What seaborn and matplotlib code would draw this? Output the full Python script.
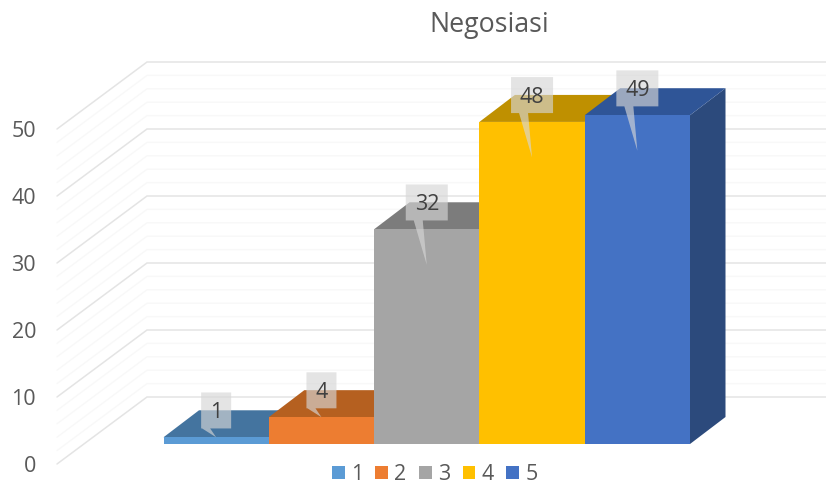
import matplotlib
matplotlib.use("Agg")
import matplotlib.pyplot as plt
from matplotlib.patches import Patch, Polygon
import pandas as pd
import seaborn as sns

categories = ["1", "2", "3", "4", "5"]
values = [1, 4, 32, 48, 49]
front_colors = ["#5B9BD5", "#ED7D31", "#A5A5A5", "#FFC000", "#4472C4"]
top_colors = ["#44749F", "#B56020", "#7C7C7C", "#BF9000", "#2F5597"]
side_colors = ["#3A6A96", "#A85A1D", "#737373", "#B08500", "#2C4A7C"]
y_ticks = [0, 10, 20, 30, 40, 50]
minor_ticks = [v for v in range(0, 50, 2) if v % 10]
title_text = "Negosiasi"

W, H = 826, 488
BAR_LEFT, BAR_RIGHT, BAR_BASE, UNIT_PX = 163.5, 690.0, 444.0, 6.71
WALL_LEFT, WALL_ZERO, WALL_UNIT = 57.0, 464.0, 6.70
DEPTH_X_PX, DEPTH_Y_PX = 35.5, 27.0
WALL_DX_PX, WALL_DV = 90.0, 10.0
GREY = "#595959"

sns.set_theme(style="white")
plt.rcParams["font.family"] = ["Open Sans", "DejaVu Sans"]

fig = plt.figure(figsize=(W / 100, H / 100), dpi=100)
fig.patch.set_facecolor("white")

# Wall and floor grid: its own axes, so the value axis sits on the front plane
wall = fig.add_axes([WALL_LEFT / W, 0, 1 - WALL_LEFT / W, 1])
wall.set_xlim(0, W - WALL_LEFT)
wall.set_ylim(-(H - WALL_ZERO) / WALL_UNIT, WALL_ZERO / WALL_UNIT)
wall.set_xticks([])
wall.set_yticks(y_ticks)
wall.tick_params(axis="y", length=0, pad=15, labelsize=15.5, labelcolor=GREY)
sns.despine(ax=wall, left=True, bottom=True)

def wall_line(v, color, lw):
    wall.plot([0, WALL_DX_PX, W - WALL_LEFT], [v, v + WALL_DV, v + WALL_DV],
              color=color, lw=lw, solid_joinstyle="miter", clip_on=False)

for v in minor_ticks:
    wall_line(v, "#F8F8F8", 1.0)
for v in y_ticks:
    wall_line(v, "#E4E4E4", 1.1)

# Bars
ax = fig.add_axes([0, 0, 1, 1], facecolor="none")
frame = pd.DataFrame({"kategori": categories, "nilai": values})
sns.barplot(data=frame, x="kategori", y="nilai", hue="kategori",
            palette=dict(zip(categories, front_colors)), order=categories,
            hue_order=categories, width=1.0, dodge=False, legend=False,
            saturation=1, ax=ax)
cat_px = (BAR_RIGHT - BAR_LEFT) / len(categories)
ax.set_xlim(-0.5 - BAR_LEFT / cat_px, 4.5 + (W - BAR_RIGHT) / cat_px)
ax.set_ylim(-(H - BAR_BASE) / UNIT_PX, BAR_BASE / UNIT_PX)
ax.set_axis_off()
bars = list(ax.patches)
for bar in bars:
    bar.set_zorder(5)
    bar.set_edgecolor("none")

dc = DEPTH_X_PX / cat_px
dv = DEPTH_Y_PX / UNIT_PX
for i, v in enumerate(values):
    ax.add_patch(Polygon([(i + .5, 0), (i + .5 + dc, dv), (i + .5 + dc, v + dv), (i + .5, v)],
                         closed=True, fc=side_colors[i], ec="none", zorder=2 + i * .1))
    ax.add_patch(Polygon([(i - .5, v), (i + .5, v), (i + .5 + dc, v + dv), (i - .5 + dc, v + dv)],
                         closed=True, fc=top_colors[i], ec="none", zorder=2.05 + i * .1))

# Data-label callouts
box_rgba = (214 / 255, 214 / 255, 214 / 255, 0.65)
box_h = 18 / UNIT_PX
for i, v in enumerate(values):
    text = str(v)
    half = (21 if len(text) > 1 else 15) / cat_px
    mid = v + 4.0
    tip = v - 5.3 if v > 10 else v
    base_l, base_r = (i - 13 / cat_px, i - 4 / cat_px) if v > 10 else (i - 14 / cat_px, i - 6 / cat_px)
    ax.add_patch(Polygon([(i - half, mid - box_h), (base_l, mid - box_h), (i, tip),
                          (base_r, mid - box_h), (i + half, mid - box_h),
                          (i + half, mid + box_h), (i - half, mid + box_h)],
                         closed=True, fc=box_rgba, ec="none", zorder=6))
    ax.text(i, mid, text, ha="center", va="center_baseline", fontsize=15.5,
            color="#404040", zorder=7)

handles = [Patch(fc=b.get_facecolor(), ec="none", label=c) for b, c in zip(bars, categories)]
fig.legend(handles=handles, loc="center", bbox_to_anchor=(434.5 / W, 1 - 474.5 / H),
           ncol=5, frameon=False, fontsize=15.5, labelcolor=GREY,
           handlelength=0.6, handleheight=0.6, handletextpad=0.28,
           columnspacing=0.58, borderpad=0, borderaxespad=0)

fig.text(489 / W, 1 - 32 / H, title_text, ha="center", va="baseline",
         fontsize=19.3, color=GREY)

fig.savefig("out.png", dpi=100, facecolor="white")
